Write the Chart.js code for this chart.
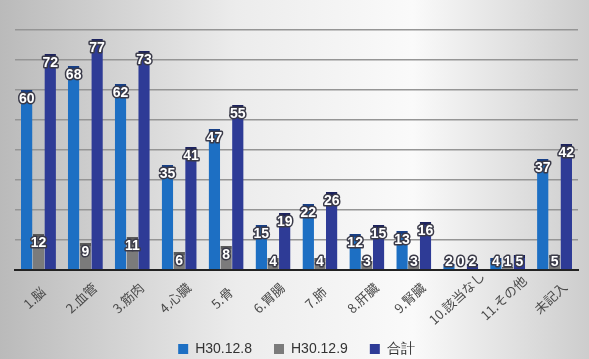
<!DOCTYPE html>
<html>
<head>
<meta charset="utf-8">
<script src="https://cdn.jsdelivr.net/npm/chart.js@4"></script>
<style>
html,body{margin:0;padding:0;background:#fff;}
#wrap{width:589px;height:359px;position:relative;}
</style>
</head>
<body>
<div id="wrap"><canvas id="c" width="589" height="359"></canvas></div>
<script>
const categories = ["1.脳","2.血管","3.筋肉","4.心臓","5.骨","6.胃腸","7.肺","8.肝臓","9.腎臓","10.該当なし","11.その他","未記入"];
const seriesNames = ["H30.12.8","H30.12.9","合計"];
const valuesDay1 = [60,68,62,35,47,15,22,12,13,2,4,37];
const valuesDay2 = [12,9,11,6,8,4,4,3,3,0,1,5];
const valuesTotal = [72,77,73,41,55,19,26,15,16,2,5,42];
const yTicks = [0,10,20,30,40,50,60,70,80];

const bgPlugin = {
  id:'bg',
  beforeDraw(chart){
    const ctx = chart.ctx, w = chart.width, h = chart.height;
    const g = ctx.createLinearGradient(0,0,w,0);
    g.addColorStop(0,'#bababa');
    g.addColorStop(0.4,'#ececec');
    g.addColorStop(0.7,'#fafafa');
    g.addColorStop(1,'#cdcdcd');
    ctx.save(); ctx.fillStyle = g; ctx.fillRect(0,0,w,h); ctx.restore();
  }
};

const xLabelPlugin = {
  id:'xlabels',
  afterDraw(chart){
    const ctx = chart.ctx, sx = chart.scales.x;
    ctx.save();
    ctx.font = '13px "Noto Sans CJK JP", sans-serif';
    ctx.fillStyle = '#4a4a4a';
    ctx.textAlign = 'center';
    ctx.textBaseline = 'middle';
    chart.data.labels.forEach((lab,i)=>{
      const x = sx.getPixelForTick(i) - 4;
      const y = sx.top + 28;
      ctx.save();
      ctx.translate(x,y);
      ctx.rotate(-43*Math.PI/180);
      ctx.fillText(lab,0,0);
      ctx.restore();
    });
    ctx.restore();
  }
};

const labelPlugin = {
  id:'vlabels',
  afterDatasetsDraw(chart){
    const ctx = chart.ctx;
    const base = chart.scales.y.getPixelForValue(0);
    ctx.save();
    ctx.font = 'bold 14px "Liberation Sans Narrow", "Liberation Sans", Arial, sans-serif';
    ctx.textAlign = 'center';
    ctx.textBaseline = 'middle';
    ctx.lineJoin = 'round';
    chart.data.datasets.forEach((ds,di)=>{
      const meta = chart.getDatasetMeta(di);
      meta.data.forEach((bar,i)=>{
        const v = ds.data[i];
        const y = Math.min(bar.y + 9, base - 8);
        ctx.lineWidth = 3;
        ctx.strokeStyle = '#3a3a48';
        ctx.strokeText(String(v), bar.x, y);
        ctx.fillStyle = '#ffffff';
        ctx.fillText(String(v), bar.x, y);
      });
    });
    ctx.restore();
  }
};

new Chart(document.getElementById('c'), {
  type:'bar',
  data:{
    labels: categories,
    datasets:[
      {label:seriesNames[0], data:valuesDay1, backgroundColor:'#1d6fc3', borderColor:'#173f86', borderWidth:{top:3,left:0,right:0,bottom:0}, borderSkipped:'bottom'},
      {label:seriesNames[1], data:valuesDay2, backgroundColor:'#7b7b7b', borderColor:'#5a5a5a', borderWidth:{top:3,left:0,right:0,bottom:0}, borderSkipped:'bottom'},
      {label:seriesNames[2], data:valuesTotal, backgroundColor:'#2e3b96', borderColor:'#1c225e', borderWidth:{top:3,left:0,right:0,bottom:0}, borderSkipped:'bottom'}
    ]
  },
  options:{
    responsive:false,
    animation:false,
    layout:{padding:{left:15,right:11,top:30,bottom:0}},
    datasets:{bar:{categoryPercentage:0.75,barPercentage:0.98}},
    plugins:{
      legend:{
        position:'bottom',
        maxHeight:39,
        labels:{
          boxWidth:10, boxHeight:10, padding:22,
          color:'#333',
          font:{family:'"Liberation Sans", Arial, sans-serif', size:14},
          generateLabels(chart){
            return Chart.defaults.plugins.legend.labels.generateLabels(chart).map(l=>Object.assign(l,{lineWidth:0,strokeStyle:'rgba(0,0,0,0)'}));
          }
        }
      },
      tooltip:{enabled:false}
    },
    scales:{
      x:{
        grid:{display:false},
        border:{display:true,color:'#222',width:2},
        ticks:{display:false},
        afterFit(s){ s.height = 50; }
      },
      y:{
        min:0, max:80,
        afterBuildTicks(s){ s.ticks = yTicks.map(v=>({value:v})); },
        ticks:{display:false},
        grid:{color:(c)=> c.tick && c.tick.value===0 ? 'rgba(0,0,0,0)' : '#959595', lineWidth:1.5, drawTicks:false},
        border:{display:false},
        afterFit(s){ s.width = 0; }
      }
    }
  },
  plugins:[bgPlugin,labelPlugin,xLabelPlugin]
});
</script>
</body>
</html>
